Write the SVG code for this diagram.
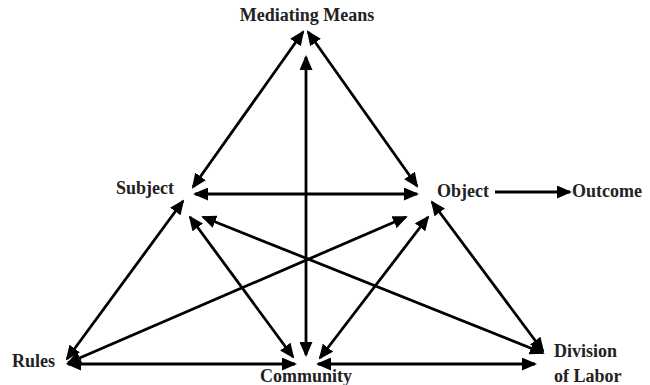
<svg xmlns="http://www.w3.org/2000/svg" width="650" height="385" viewBox="0 0 650 385">
<defs>
<marker id="ah" viewBox="0 0 15 13" refX="13" refY="6.5" markerWidth="15" markerHeight="13" markerUnits="userSpaceOnUse" orient="auto-start-reverse">
<path d="M0,0 L15,6.5 L0,13 z" fill="#000"/>
</marker>
</defs>
<style>
.lbl{font-family:"Liberation Serif","Times New Roman",serif;font-weight:bold;font-size:18px;fill:#222}
.c{stroke:#000;stroke-width:2.8;fill:none}
.d{marker-start:url(#ah);marker-end:url(#ah)}
.s{marker-end:url(#ah)}
</style>
<rect width="650" height="385" fill="#fff"/>
<g id="connectors">
<line class="c d" x1="303" y1="32" x2="193" y2="187"/>
<line class="c d" x1="308" y1="32" x2="417" y2="186"/>
<line class="c d" x1="306" y1="57" x2="306" y2="355"/>
<line class="c d" x1="195" y1="194" x2="417" y2="194"/>
<line class="c d" x1="183" y1="201" x2="67" y2="359"/>
<line class="c d" x1="190" y1="217" x2="293" y2="357"/>
<line class="c d" x1="203" y1="217" x2="543" y2="353"/>
<line class="c d" x1="406" y1="217" x2="68" y2="363"/>
<line class="c d" x1="428" y1="217" x2="320" y2="358"/>
<line class="c d" x1="432" y1="202" x2="543" y2="351"/>
<line class="c d" x1="68" y1="364" x2="295" y2="364"/>
<line class="c d" x1="318" y1="364" x2="535" y2="364"/>
<line class="c s" x1="495" y1="192" x2="570" y2="192"/>
</g>
<g id="mediating-means"><text class="lbl" x="307" y="21" text-anchor="middle">Mediating Means</text></g>
<g id="subject"><text class="lbl" x="145" y="194" text-anchor="middle">Subject</text></g>
<g id="object"><text class="lbl" x="463" y="197" text-anchor="middle">Object</text></g>
<g id="outcome"><text class="lbl" x="572" y="197">Outcome</text></g>
<g id="rules"><text class="lbl" x="12" y="367">Rules</text></g>
<g id="community"><text class="lbl" x="306" y="382" text-anchor="middle">Community</text></g>
<g id="division-of-labor"><text class="lbl" x="554" y="357">Division</text><text class="lbl" x="554" y="382">of Labor</text></g>
</svg>
